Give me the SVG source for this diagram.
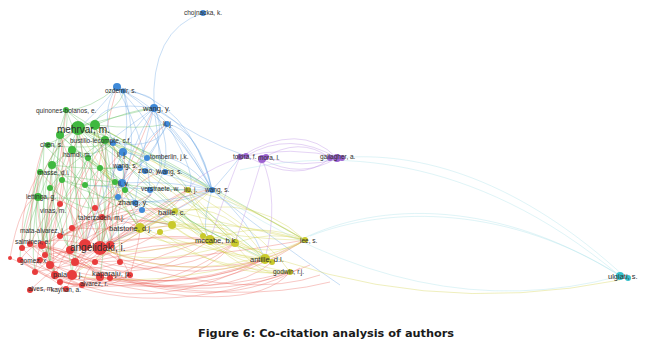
<svg xmlns="http://www.w3.org/2000/svg" width="648" height="343" viewBox="0 0 648 343">
<style>
text{font-family:"Liberation Sans",Arial,sans-serif;font-size:6.5px;fill:#2e2e2e}
.md{font-size:7.5px}
.lg{font-size:10px}
.cap{font-family:"DejaVu Sans",sans-serif;font-size:11.3px;font-weight:bold;fill:#1a1a1a}
.e{fill:none;stroke-width:0.8;stroke-opacity:0.42}
.er{stroke:#ea5a52}.eg{stroke:#4fb84f}.eb{stroke:#5b9be0}.ey{stroke:#cfcf3c}.ep{stroke:#b07ee0}.ec{stroke:#9fdde6}
.r{fill:#e83c3c}.g{fill:#3fb83f}.b{fill:#3f8ad8}.y{fill:#c9c92c}.p{fill:#9c62d0}.c{fill:#35c0cc}
</style>
<rect width="648" height="343" fill="#ffffff"/>
<g id="edges">
<path class="e er" d="M85,245 Q60,220 78,128 M100,248 Q120,200 95,125 M100,248 Q160,230 210,240 M100,248 Q180,280 265,259 M85,245 Q200,300 305,240 M72,275 Q180,300 290,272 M55,275 Q150,320 265,259 M42,245 Q60,180 66,110 M30,244 Q30,180 44,145 M22,248 Q40,150 78,128 M45,255 Q90,200 140,228 M70,250 Q120,210 172,225 M50,265 Q100,230 210,240 M75,262 Q150,240 235,243 M95,262 Q200,260 305,240 M100,277 Q200,290 265,259 M110,278 Q170,250 210,240 M60,236 Q80,180 105,140 M72,228 Q100,170 123,152 M102,217 Q130,170 154,108 M95,208 Q120,180 140,165 M60,204 Q70,170 52,165 M100,248 Q90,200 38,197 M85,245 Q70,200 40,172 M20,260 Q40,230 85,245 M35,272 Q70,240 100,248 M30,290 Q60,260 100,248 M66,289 Q80,260 100,248 M82,285 Q90,260 110,245 M130,275 Q120,250 100,248 M100,277 Q80,250 42,245 M55,275 Q50,240 60,204 M72,275 Q160,200 188,190 M110,245 Q180,190 212,190 M100,248 Q140,140 167,124 M85,245 Q100,150 117,87 M120,262 Q250,300 320,275 M100,277 Q240,305 330,282 M50,265 Q30,200 40,172 M10,258 Q20,200 38,197 M42,245 Q90,260 130,275 M22,248 Q60,290 100,277 M45,255 Q60,230 102,217 M70,250 Q80,220 95,208 M110,245 Q110,200 122,183 M85,245 Q140,200 175,211 M75,262 Q130,180 160,172 M55,275 Q40,200 62,180 M42,245 Q120,210 150,195 M100,248 Q60,270 20,260 M72,275 Q40,260 30,244 M95,262 Q170,210 212,190 M60,282 Q160,300 235,243 M100,248 Q100,180 88,158 M85,245 Q80,180 60,135 M35,272 Q150,250 210,240 M100,248 Q130,230 172,225 M85,245 Q120,260 160,232 M70,250 Q150,290 235,243 M42,245 Q130,300 210,240 M30,244 Q150,310 265,259 M55,275 Q200,310 305,240 M72,275 Q250,320 290,272 M100,277 Q180,300 235,243 M110,278 Q230,300 272,262 M50,265 Q160,300 265,259 M20,260 Q130,330 290,272 M45,255 Q150,240 188,190 M60,236 Q130,200 175,211 M72,228 Q120,230 140,228 M102,217 Q150,220 172,225 M95,208 Q140,180 122,183 M60,204 Q90,170 88,158 M42,245 Q50,200 52,165 M22,248 Q20,200 40,172 M30,244 Q60,190 72,150 M45,255 Q70,180 60,135 M70,250 Q90,170 78,128 M85,245 Q110,170 105,140 M110,245 Q130,180 123,152 M100,248 Q120,160 113,143 M95,262 Q60,250 30,244 M120,262 Q80,230 60,236 M110,278 Q70,290 30,290 M130,275 Q90,300 55,275 M82,285 Q50,270 20,260 M66,289 Q40,270 10,258 M100,277 Q60,240 22,248 M72,275 Q100,230 102,217 M55,275 Q80,220 95,208 M35,272 Q40,230 60,204 M50,265 Q80,230 72,228 M120,262 Q110,230 102,217 M130,275 Q140,240 140,228 M110,245 Q150,215 175,211 M100,248 Q170,200 188,190 M85,245 Q160,190 150,195 M42,245 Q110,200 135,203 M70,250 Q110,200 118,197 M60,236 Q100,220 142,210 M45,255 Q60,300 100,277 M30,244 Q80,280 120,262 M20,260 Q70,300 130,275 M75,262 Q210,320 300,268 M42,245 Q180,320 310,265"/>
<path class="e eg" d="M78,128 Q120,170 140,228 M78,128 Q150,180 210,240 M95,125 Q170,180 235,243 M78,128 Q70,190 85,245 M66,110 Q40,180 42,245 M44,145 Q30,200 30,244 M60,135 Q40,200 50,265 M105,140 Q110,200 100,248 M72,150 Q60,210 72,275 M52,165 Q50,220 70,250 M40,172 Q30,230 45,255 M38,197 Q40,240 55,275 M88,158 Q100,210 110,245 M78,128 Q100,120 154,108 M95,125 Q140,130 167,124 M105,140 Q160,160 212,190 M78,128 Q130,150 160,172 M66,110 Q90,110 117,87 M78,128 Q60,140 44,145 M78,128 Q100,135 105,140 M60,135 Q70,160 52,165 M72,150 Q95,160 113,143 M100,168 Q130,170 147,158 M115,182 Q150,190 188,190 M85,185 Q130,220 172,225 M125,190 Q160,210 175,211 M62,180 Q90,190 122,183 M50,188 Q80,210 95,208 M78,128 Q200,200 265,259 M95,125 Q200,180 305,240 M66,110 Q80,150 100,168 M44,145 Q70,170 85,185 M38,197 Q80,200 118,197 M66,110 Q110,150 140,165 M60,135 Q100,170 125,190 M95,125 Q130,160 122,183 M78,128 Q40,160 38,197 M105,140 Q60,170 50,188 M88,158 Q60,200 42,245 M72,150 Q120,200 140,228 M52,165 Q100,200 100,248 M78,128 Q90,200 100,248 M78,128 Q50,190 42,245 M95,125 Q120,200 110,245 M95,125 Q90,190 85,245 M60,135 Q50,210 70,250 M66,110 Q50,190 50,265 M44,145 Q40,230 55,275 M72,150 Q80,220 75,262 M105,140 Q120,220 120,262 M88,158 Q60,220 45,255 M52,165 Q30,220 22,248 M40,172 Q20,230 20,260 M38,197 Q30,240 35,272 M62,180 Q80,230 72,275 M100,168 Q110,220 100,277 M115,182 Q130,220 140,228 M85,185 Q110,230 100,248 M78,128 Q160,150 212,190 M95,125 Q180,170 188,190 M60,135 Q130,200 172,225 M72,150 Q150,200 210,240 M105,140 Q170,220 235,243 M88,158 Q180,220 265,259 M66,110 Q100,130 123,152 M44,145 Q90,150 113,143 M52,165 Q90,170 120,168 M40,172 Q90,180 122,183 M62,180 Q100,200 135,203 M78,128 Q120,110 124,91 M95,125 Q130,110 154,108 M60,135 Q80,120 95,125 M66,110 Q70,130 60,135 M72,150 Q80,140 78,128 M52,165 Q70,150 72,150 M88,158 Q100,150 105,140 M100,168 Q90,180 85,185 M115,182 Q100,175 100,168"/>
<path class="e eb" d="M154,108 Q150,30 203,13 M154,108 Q200,130 212,190 M117,87 Q190,100 212,190 M124,91 Q180,120 212,190 M117,87 Q100,110 113,143 M154,108 Q130,130 123,152 M154,108 Q160,150 160,172 M167,124 Q190,150 212,190 M167,124 Q150,160 122,183 M123,152 Q170,160 212,190 M140,165 Q180,180 212,190 M113,143 Q110,170 118,197 M123,152 Q120,180 135,203 M122,183 Q170,180 212,190 M135,203 Q180,200 212,190 M212,190 Q260,230 340,285 M154,108 Q200,140 246,156 M212,190 Q230,170 240,157 M117,87 Q90,120 78,128 M154,108 Q100,100 95,125 M124,91 Q160,95 154,108 M167,124 Q140,140 140,165 M212,190 Q160,220 100,248 M123,152 Q100,200 85,245 M150,195 Q120,230 100,248 M117,87 Q170,140 160,172 M124,91 Q140,150 122,183 M154,108 Q180,160 150,195 M212,190 Q180,150 147,158 M167,124 Q200,180 188,190 M117,87 Q150,150 150,195 M154,108 Q140,160 135,203 M124,91 Q130,130 123,152 M113,143 Q160,150 167,124 M140,165 Q170,140 154,108 M122,183 Q130,150 154,108 M212,190 Q200,130 167,124 M212,190 Q180,130 124,91 M118,197 Q170,210 212,190 M212,190 Q140,190 85,185 M154,108 Q110,140 88,158 M212,190 Q200,230 210,240 M212,190 Q250,220 265,259"/>
<path class="e ey" d="M140,228 Q180,210 210,240 M140,228 Q200,250 265,259 M172,225 Q230,220 305,240 M210,240 Q260,220 305,240 M210,240 Q240,260 265,259 M235,243 Q270,230 305,240 M210,240 Q250,280 290,272 M265,259 Q290,250 305,240 M172,225 Q220,260 265,259 M175,211 Q200,230 210,240 M188,190 Q200,220 210,240 M188,190 Q240,200 305,240 M140,228 Q240,180 305,240 M160,232 Q230,280 290,272 M210,240 Q120,260 85,245 M235,243 Q150,270 100,248 M265,259 Q150,290 72,275 M305,240 Q200,290 100,248 M172,225 Q120,210 78,128 M140,228 Q100,180 95,125 M210,240 Q150,180 105,140 M175,211 Q230,200 265,259 M188,190 Q260,230 290,272 M140,228 Q250,220 235,243 M172,225 Q200,200 212,190 M235,243 Q420,320 620,280 M140,228 Q210,270 290,272 M172,225 Q250,240 305,240 M175,211 Q250,230 305,240 M188,190 Q230,250 265,259 M210,240 Q280,260 305,240 M235,243 Q260,280 290,272 M160,232 Q210,220 235,243 M140,228 Q160,250 210,240 M172,225 Q200,250 235,243 M203,236 Q250,240 272,262 M175,211 Q210,260 290,272 M188,190 Q140,230 110,245 M175,211 Q110,250 72,275 M210,240 Q130,200 88,158 M235,243 Q170,160 95,125 M265,259 Q180,200 105,140 M305,240 Q200,180 78,128"/>
<path class="e ep" d="M246,156 Q290,130 337,158 M262,159 Q300,135 330,158 M240,157 Q290,145 342,158 M262,159 Q300,180 337,158 M246,156 Q300,185 330,158 M266,157 Q300,170 342,158 M240,157 Q230,180 210,240 M262,159 Q250,200 235,243 M246,156 Q200,170 188,190 M262,159 Q280,200 265,259 M240,157 Q300,120 337,158"/>
<path class="e ec" d="M240,170 C330,150 470,150 620,276 M300,240 C380,200 500,200 620,276 M310,236 C390,205 510,205 624,278 M212,190 Q420,330 620,276 M337,158 C420,150 520,180 626,278"/>
</g>
<g id="nodes">
<g id="n-chojnacka"><circle class="b" cx="203" cy="13" r="3"/><text x="184" y="15">chojnacka, k.</text></g>
<g id="n-ozdemir"><circle class="b" cx="117" cy="87" r="4"/><circle class="b" cx="123" cy="91" r="2.5"/><text x="105" y="93">ozdemir, s.</text></g>
<g id="n-wangy"><circle class="b" cx="154" cy="108" r="4"/><text class="md" x="143" y="111">wang, y.</text></g>
<g id="n-lij1"><circle class="b" cx="167" cy="124" r="3"/><text x="163" y="126">li, j.</text></g>
<g id="n-quinones"><circle class="g" cx="66" cy="110" r="3"/><text x="36" y="113">quinones-bolanos, e.</text></g>
<g id="n-mehrvar"><circle class="g" cx="78" cy="128" r="7"/><circle class="g" cx="95" cy="125" r="5"/><circle class="g" cx="60" cy="135" r="4"/><text class="lg" x="57" y="133">mehrvar, m.</text></g>
<g id="n-chen"><circle class="g" cx="48" cy="145" r="3"/><text x="40" y="147">chen, s.</text></g>
<g id="n-bustillo"><circle class="g" cx="105" cy="140" r="4"/><circle class="b" cx="113" cy="143" r="3"/><text x="70" y="143">bustillo-lecompte, c.f.</text></g>
<g id="n-hamdi"><circle class="g" cx="72" cy="150" r="4"/><circle class="g" cx="88" cy="158" r="3"/><text x="63" y="157">hamdi, m.</text></g>
<g id="n-lij2"><circle class="b" cx="123" cy="152" r="4"/><text x="117" y="157">li, j.</text></g>
<g id="n-tomberlin"><circle class="b" cx="147" cy="158" r="3"/><text x="150" y="159">tomberlin, j.k.</text></g>
<g id="n-wangs1"><circle class="b" cx="120" cy="168" r="3"/><circle class="g" cx="100" cy="168" r="3"/><text x="113" y="168">wang, s.</text></g>
<g id="n-zhao"><circle class="b" cx="145" cy="171" r="3"/><text x="138" y="173">zhao, y.</text></g>
<g id="n-wangs2"><circle class="b" cx="165" cy="172" r="3"/><text x="158" y="174">wang, s.</text></g>
<g id="n-masse"><circle class="g" cx="52" cy="165" r="4"/><circle class="g" cx="40" cy="172" r="3"/><circle class="g" cx="62" cy="180" r="3"/><text x="38" y="175">masse, d.i.</text></g>
<g id="n-liy"><circle class="b" cx="122" cy="183" r="4"/><circle class="g" cx="115" cy="182" r="3"/><circle class="g" cx="85" cy="185" r="3"/><text x="118" y="186">li, y.</text></g>
<g id="n-verstraete"><circle class="b" cx="150" cy="190" r="3"/><circle class="g" cx="125" cy="190" r="3"/><text x="141" y="191">verstraete, w.</text></g>
<g id="n-liuj"><circle class="y" cx="188" cy="190" r="3"/><text x="184" y="192">liu, j.</text></g>
<g id="n-wangs3"><circle class="b" cx="212" cy="190" r="3"/><text x="205" y="192">wang, s.</text></g>
<g id="n-lettinga"><circle class="g" cx="38" cy="197" r="4"/><circle class="g" cx="50" cy="188" r="3"/><text x="26" y="199">lettinga, g.</text></g>
<g id="n-zhang"><circle class="b" cx="135" cy="203" r="3"/><circle class="b" cx="118" cy="197" r="3"/><circle class="b" cx="142" cy="210" r="3"/><text class="md" x="118" y="205">zhang, y.</text></g>
<g id="n-vinas"><circle class="r" cx="60" cy="204" r="3"/><text x="40" y="213">vinas, m.</text></g>
<g id="n-taherzadeh"><circle class="r" cx="102" cy="217" r="3"/><circle class="r" cx="95" cy="208" r="3"/><text x="78" y="220">taherzadeh, m.j.</text></g>
<g id="n-bailie"><circle class="y" cx="175" cy="211" r="3"/><text class="md" x="158" y="215">bailie, c.</text></g>
<g id="n-batstone"><circle class="y" cx="140" cy="228" r="5"/><circle class="y" cx="172" cy="225" r="4"/><circle class="y" cx="160" cy="232" r="3"/><text class="md" x="109" y="231">batstone, d.j.</text></g>
<g id="n-mata"><circle class="r" cx="72" cy="228" r="3"/><circle class="r" cx="60" cy="236" r="3"/><text x="20" y="233">mata-alvarez, j.</text></g>
<g id="n-salminen"><circle class="r" cx="42" cy="245" r="4"/><circle class="r" cx="30" cy="244" r="3"/><circle class="r" cx="22" cy="248" r="3"/><text x="15" y="244">salminen, e.</text></g>
<g id="n-angelidaki"><circle class="r" cx="85" cy="245" r="6"/><circle class="r" cx="100" cy="248" r="7"/><circle class="r" cx="110" cy="245" r="4"/><circle class="r" cx="70" cy="250" r="4"/><circle class="r" cx="45" cy="255" r="3"/><text class="lg" x="70" y="251">angelidaki, i.</text></g>
<g id="n-mccabe"><circle class="y" cx="210" cy="240" r="5"/><circle class="y" cx="235" cy="243" r="4"/><circle class="y" cx="203" cy="236" r="3"/><text class="md" x="195" y="243">mccabe, b.k.</text></g>
<g id="n-lee"><circle class="y" cx="305" cy="240" r="3"/><text x="300" y="243">lee, s.</text></g>
<g id="n-gomez"><circle class="r" cx="20" cy="260" r="3"/><circle class="r" cx="10" cy="258" r="2"/><circle class="r" cx="40" cy="260" r="3"/><text x="20" y="263">gomez, x.</text></g>
<g id="n-antille"><circle class="y" cx="265" cy="259" r="5"/><circle class="y" cx="272" cy="262" r="3"/><text class="md" x="250" y="262">antille, d.l.</text></g>
<g id="n-godwin"><circle class="y" cx="290" cy="272" r="3"/><text x="273" y="274">godwin, r.j.</text></g>
<g id="n-palatsi"><circle class="r" cx="50" cy="265" r="4"/><circle class="r" cx="75" cy="262" r="4"/><circle class="r" cx="55" cy="275" r="4"/><circle class="r" cx="60" cy="282" r="3"/><circle class="r" cx="35" cy="272" r="3"/><text class="md" x="53" y="277">palatsi, j.</text></g>
<g id="n-kaparaju"><circle class="r" cx="72" cy="275" r="5"/><circle class="r" cx="100" cy="277" r="4"/><circle class="r" cx="110" cy="278" r="3"/><circle class="r" cx="95" cy="262" r="3"/><circle class="r" cx="120" cy="262" r="3"/><circle class="r" cx="130" cy="275" r="3"/><text class="md" x="92" y="276">kaparaju, p.</text></g>
<g id="n-alvarez"><circle class="r" cx="82" cy="285" r="3"/><text x="80" y="286">alvarez, r.</text></g>
<g id="n-alves"><circle class="r" cx="30" cy="290" r="3"/><circle class="r" cx="66" cy="289" r="3"/><text x="28" y="291">alves, m.</text><text x="51" y="292">kayhan, a.</text></g>
<g id="n-toldra"><circle class="p" cx="240" cy="157" r="3"/><circle class="p" cx="246" cy="156" r="3"/><text x="233" y="159">toldra, f.</text></g>
<g id="n-mora"><circle class="p" cx="262" cy="159" r="4"/><circle class="p" cx="266" cy="157" r="3"/><text x="258" y="160">mora, l.</text></g>
<g id="n-gallagher"><circle class="p" cx="330" cy="158" r="3"/><circle class="p" cx="337" cy="158" r="4"/><circle class="p" cx="342" cy="158" r="3"/><text x="320" y="159">gallagher, a.</text></g>
<g id="n-ulgiati"><circle class="c" cx="620" cy="276" r="4"/><circle class="c" cx="628" cy="278" r="3"/><text class="md" x="608" y="279">ulgiati, s.</text></g>
</g>
<text class="cap" x="326" y="337" text-anchor="middle">Figure 6: Co-citation analysis of authors</text>
</svg>
